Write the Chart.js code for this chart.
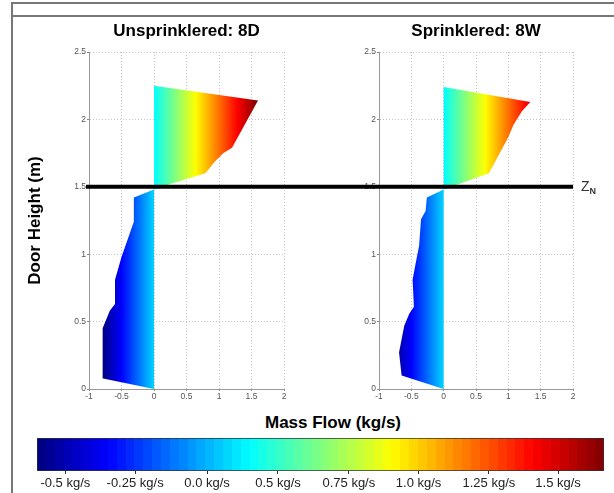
<!DOCTYPE html>
<html>
<head>
<meta charset="utf-8">
<title>Door mass flow profiles</title>
<script src="https://cdn.jsdelivr.net/npm/chart.js@4.4.1/dist/chart.umd.min.js"></script>
<style>
  html, body { margin: 0; padding: 0; background: #fff; overflow: hidden; }
  #page { position: relative; width: 614px; height: 493px; font-family: "Liberation Sans", Arial, sans-serif; }
  .frame-top { position: absolute; left: 11px; top: 2px; width: 603px; height: 11px; border-top: 2px solid #777; border-bottom: 2px solid #777; }
  .frame-left { position: absolute; left: 11px; top: 2px; width: 0; height: 491px; border-left: 2px solid #777; }
  canvas { position: absolute; }
  #cbTitle { position: absolute; left: 233px; width: 200px; top: 413px; line-height: 20px; text-align: center; font-weight: bold; font-size: 17px; color: #000; }
</style>
</head>
<body>
<div id="page">
  <div class="frame-top"></div>
  <div class="frame-left"></div>
  <canvas id="unsprinklered" width="354" height="394" style="left:0px;top:16px"></canvas>
  <canvas id="sprinklered" width="280" height="394" style="left:334px;top:16px"></canvas>
  <div id="cbTitle">Mass Flow (kg/s)</div>
  <canvas id="colourbar" width="614" height="88" style="left:0px;top:405px"></canvas>
</div>
<script>
// Mass flow through the doorway, floor to soffit.
// Negative = inflow (below neutral plane), positive = outflow (hot layer).
const unsprinkleredHeight = [0, 0.08, 0.45, 0.58, 0.63, 0.81, 0.98, 1.24, 1.42, 1.48, 1.52, 1.60, 1.69, 1.75, 1.79, 2.14, 2.25];
const unsprinkleredFlow   = [0, -0.80, -0.79, -0.68, -0.60, -0.60, -0.50, -0.31, -0.31, 0, 0.25, 0.79, 0.94, 1.07, 1.20, 1.60, 0];

const sprinkleredHeight = [0, 0.10, 0.27, 0.47, 0.56, 0.61, 0.81, 0.94, 1.06, 1.26, 1.32, 1.42, 1.48, 1.60, 1.87, 1.96, 2.06, 2.13, 2.24];
const sprinkleredFlow   = [0, -0.65, -0.69, -0.61, -0.53, -0.46, -0.48, -0.43, -0.38, -0.35, -0.28, -0.26, 0, 0.70, 1.00, 1.08, 1.21, 1.34, 0];

const neutralPlaneHeight = 1.5;

const heightTicks = [0, 0.5, 1, 1.5, 2, 2.5];
const flowTicks = [-1, -0.5, 0, 0.5, 1, 1.5, 2];

// Colour bar ticks, as a fraction along the colour map
const colourbarTickPositions = [0.05, 0.173, 0.300, 0.425, 0.550, 0.673, 0.797, 0.919];
const colourbarTickLabels = ['-0.5 kg/s', '-0.25 kg/s', '0.0 kg/s', '0.5 kg/s', '0.75 kg/s', '1.0 kg/s', '1.25 kg/s', '1.5 kg/s'];

// Colour limits of the flow shading (kg/s)
const FLOW_MIN = -0.8;
const FLOW_MAX = 1.6;

const FONT = '"Liberation Sans", Arial, sans-serif';
Chart.defaults.font.family = FONT;

function jet(t) {
  const c = v => Math.round(255 * Math.max(0, Math.min(1, v)));
  return 'rgb(' + c(1.5 - Math.abs(4 * t - 3)) + ',' + c(1.5 - Math.abs(4 * t - 2)) + ',' + c(1.5 - Math.abs(4 * t - 1)) + ')';
}

// inflow spans the blue end of the map, outflow runs cyan -> dark red
function flowToJet(v) {
  return v < 0 ? (v - FLOW_MIN) / (-FLOW_MIN) / 3 : 0.375 + 0.625 * v / FLOW_MAX;
}

function flowGradient(chart) {
  const { ctx, chartArea, scales } = chart;
  if (!chartArea || !scales.x) return '#00ffff';
  const x0 = scales.x.getPixelForValue(FLOW_MIN);
  const x1 = scales.x.getPixelForValue(FLOW_MAX);
  const g = ctx.createLinearGradient(x0, 0, x1, 0);
  const span = FLOW_MAX - FLOW_MIN;
  const n = 80;
  for (let i = 0; i <= n; i++) {
    const v = FLOW_MIN + (0 - FLOW_MIN) * i / n;
    g.addColorStop((v - FLOW_MIN) / span, jet(flowToJet(Math.min(v, -1e-6))));
  }
  for (let i = 0; i <= n; i++) {
    const v = FLOW_MAX * i / n;
    g.addColorStop((v - FLOW_MIN) / span, jet(flowToJet(v)));
  }
  return g;
}

function colourbarGradient(chart) {
  const { ctx, chartArea } = chart;
  if (!chartArea) return '#00ffff';
  const g = ctx.createLinearGradient(chartArea.left, 0, chartArea.right, 0);
  const bands = 64;
  for (let i = 0; i < bands; i++) {
    const col = jet((i + 0.5) / bands);
    g.addColorStop(i / bands, col);
    g.addColorStop((i + 1) / bands, col);
  }
  return g;
}

// Thick horizontal line marking the neutral plane height
const neutralPlanePlugin = {
  id: 'neutralPlane',
  afterDatasetsDraw(chart, args, opts) {
    const { ctx, chartArea, scales } = chart;
    const y = scales.y.getPixelForValue(opts.value);
    const x0 = chartArea.left - opts.extendLeft;
    const x1 = chartArea.right + opts.extendRight;
    ctx.save();
    ctx.strokeStyle = '#000';
    ctx.lineWidth = 4;
    ctx.beginPath();
    ctx.moveTo(x0, y);
    ctx.lineTo(x1, y);
    ctx.stroke();
    if (opts.label) {
      const lx = chartArea.right + 8;
      ctx.fillStyle = '#333';
      ctx.textBaseline = 'middle';
      ctx.font = '14px ' + FONT;
      ctx.fillText(opts.label, lx, y);
      const w = ctx.measureText(opts.label).width;
      ctx.font = 'bold 9px ' + FONT;
      ctx.fillText(opts.subscript, lx + w, y + 5);
    }
    ctx.restore();
  }
};

function profileChart(id, title, heights, flows, cfg) {
  const points = heights.map((h, i) => ({ x: flows[i], y: h }));
  const tickFont = { size: 8.5 };
  return new Chart(document.getElementById(id), {
    type: 'line',
    data: {
      datasets: [{
        data: points,
        fill: 'origin',
        borderColor: 'rgba(0,0,0,0)',
        borderWidth: 0,
        pointRadius: 0,
        tension: 0,
        backgroundColor: c => flowGradient(c.chart)
      }]
    },
    options: {
      indexAxis: 'y',
      responsive: false,
      animation: false,
      events: [],
      layout: { padding: { left: 0, right: cfg.padRight, top: 0, bottom: 0 } },
      plugins: {
        legend: { display: false },
        tooltip: { enabled: false },
        title: {
          display: true,
          fullSize: false,
          text: title,
          color: '#000',
          font: { size: 17, weight: 'bold' },
          padding: { top: 4.8, bottom: 10.8 }
        },
        neutralPlane: {
          value: neutralPlaneHeight,
          extendLeft: cfg.lineLeft,
          extendRight: cfg.lineRight,
          label: cfg.label,
          subscript: cfg.subscript
        }
      },
      scales: {
        x: {
          type: 'linear',
          min: -1,
          max: 2,
          afterBuildTicks: s => { s.ticks = flowTicks.map(v => ({ value: v })); },
          afterFit: s => { s.height = 21; },
          ticks: { color: '#555', font: tickFont, padding: 1, maxRotation: 0, autoSkip: false, callback: v => String(v) },
          grid: { color: '#c4c4c4', lineWidth: 1, drawTicks: true, tickLength: 2, tickColor: '#888' },
          border: { display: true, color: '#999', width: 1, dash: [1, 2] }
        },
        y: {
          type: 'linear',
          min: 0,
          max: 2.5,
          afterBuildTicks: s => { s.ticks = heightTicks.map(v => ({ value: v })); },
          afterFit: s => { s.width = cfg.yWidth; },
          ticks: { color: '#555', font: tickFont, padding: 1, autoSkip: false, callback: v => String(v) },
          grid: { color: '#c4c4c4', lineWidth: 1, drawTicks: true, tickLength: 2, tickColor: '#888' },
          border: { display: true, color: '#999', width: 1, dash: [1, 2] },
          title: cfg.yTitle ? {
            display: true,
            text: cfg.yTitle,
            color: '#000',
            font: { size: 17, weight: 'bold' },
            padding: { top: 24.8, bottom: 0 }
          } : { display: false }
        }
      }
    },
    plugins: [neutralPlanePlugin]
  });
}

// left panel's line runs on across the gap to meet the right panel's line
profileChart('unsprinklered', 'Unsprinklered: 8D', unsprinkleredHeight, unsprinkleredFlow, {
  padRight: 70, yWidth: 89, yTitle: 'Door Height (m)', lineLeft: 3, lineRight: 70
});

profileChart('sprinklered', 'Sprinklered: 8W', sprinkleredHeight, sprinkleredFlow, {
  padRight: 41, yWidth: 45, yTitle: null, lineLeft: 25, lineRight: 0, label: 'Z', subscript: 'N'
});

new Chart(document.getElementById('colourbar'), {
  type: 'bar',
  data: {
    labels: ['Mass Flow (kg/s)'],
    datasets: [{
      data: [[0, 1]],
      backgroundColor: c => colourbarGradient(c.chart),
      borderColor: '#333',
      borderWidth: 1,
      borderSkipped: false,
      barPercentage: 1,
      categoryPercentage: 1
    }]
  },
  options: {
    indexAxis: 'y',
    responsive: false,
    animation: false,
    events: [],
    layout: { padding: { left: 37, right: 10, top: 33, bottom: 0 } },
    plugins: { legend: { display: false }, tooltip: { enabled: false } },
    scales: {
      x: {
        type: 'linear',
        min: 0,
        max: 1,
        afterBuildTicks: s => { s.ticks = colourbarTickPositions.map(v => ({ value: v })); },
        afterFit: s => { s.height = 22; },
        ticks: { color: '#222', font: { size: 13 }, padding: 2, maxRotation: 0, autoSkip: false, callback: (v, i) => colourbarTickLabels[i] },
        grid: { drawOnChartArea: false, drawTicks: true, tickLength: 3, tickColor: '#333' },
        border: { display: false }
      },
      y: { display: false }
    }
  }
});
</script>
</body>
</html>
